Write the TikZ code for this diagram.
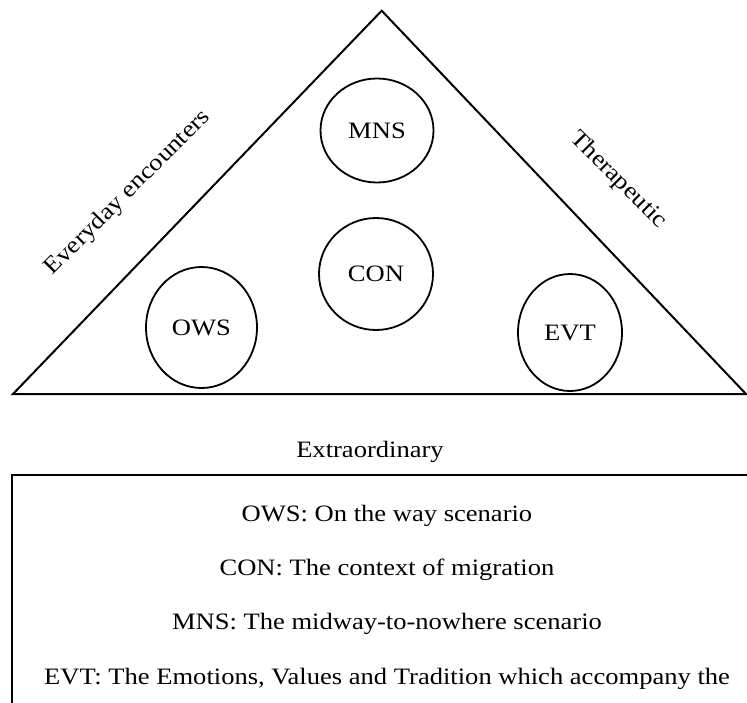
\documentclass[tikz,border=0pt]{standalone}
\usepackage{fontspec}
\setmainfont[FakeStretch=1.13]{Liberation Serif}
\usetikzlibrary{shapes.geometric}
\tikzset{
  lbl/.style={font=\fontsize{23.5}{27}\selectfont, inner sep=0pt},
  bub/.style={draw, line width=1.8pt, ellipse, inner sep=0pt, font=\fontsize{23.5}{27}\selectfont},
  frame/.style={draw, line width=2pt},
}
\begin{document}
\begin{tikzpicture}[x=1pt,y=-1pt]
\useasboundingbox (0,0) rectangle (747,702);
\clip (0,0) rectangle (747,702);
\fill[white] (0,0) rectangle (747,702);
% triangle
\coordinate (apex) at (381.7,10.7);
\coordinate (bl) at (13,394);
\coordinate (br) at (746,394);
\draw[frame, line join=miter] (bl) -- (apex) -- (br) -- cycle;
% bubbles
\node[bub, minimum width=113pt, minimum height=104pt] (mns) at (377,130.5) {MNS};
\node[bub, minimum width=114pt, minimum height=112pt] (con) at (376,274) {CON};
\node[bub, minimum width=111pt, minimum height=121pt] (ows) at (201.5,327.5) {OWS};
\node[bub, minimum width=104pt, minimum height=117pt] (evt) at (570,332.5) {EVT};
% side labels
\node[lbl, rotate=45] (every) at (128,193) {Everyday encounters};
\node[lbl, rotate=-45] (thera) at (618,180) {Therapeutic};
\node[lbl, anchor=base] (extra) at (370,457.7) {Extraordinary};
% legend box
\draw[frame] (12,760) -- (12,475) -- (760,475);
\node[lbl, anchor=base] (l1) at (387,521) {OWS: On the way scenario};
\node[lbl, anchor=base] (l2) at (387,575) {CON: The context of migration};
\node[lbl, anchor=base] (l3) at (387,629.5) {MNS: The midway-to-nowhere scenario};
\node[lbl, anchor=base] (l4) at (387,684.5) {EVT: The Emotions, Values and Tradition which accompany the};
\end{tikzpicture}
\end{document}
